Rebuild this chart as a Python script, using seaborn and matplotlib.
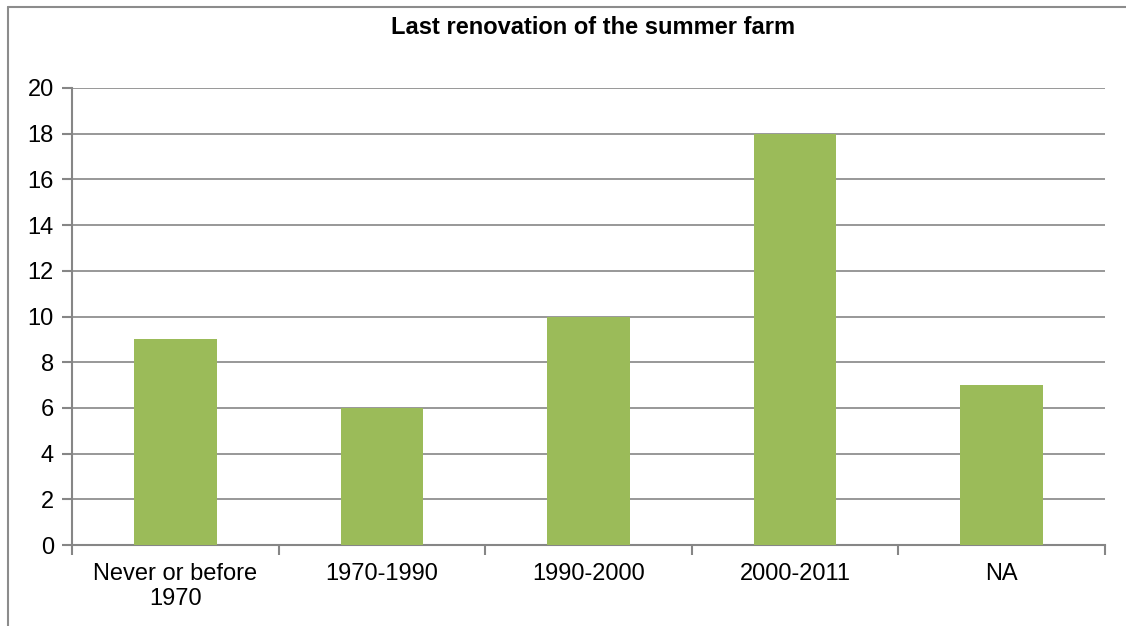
import numpy as np
import seaborn as sns
import matplotlib.pyplot as plt
from matplotlib.lines import Line2D

# data
categories = ["Never or before\n1970", "1970-1990", "1990-2000", "2000-2011", "NA"]
counts = [9, 6, 10, 18, 7]
title = "Last renovation of the summer farm"

sns.set_style("white")
plt.rcParams['font.family'] = ['Liberation Sans', 'DejaVu Sans']
plt.rcParams['text.color'] = 'black'
plt.rcParams['xtick.color'] = 'black'
plt.rcParams['ytick.color'] = 'black'

fig = plt.figure(figsize=(11.26, 6.26), dpi=100)
ax = fig.add_axes([72 / 1126, 1 - 545 / 626, (1105 - 72) / 1126, (545 - 88) / 626])

sns.barplot(x=categories, y=counts, color="#9BBB59", width=0.4, saturation=1,
            linewidth=0, ax=ax, zorder=3)

grid_col = "#868686"
ax.set_ylim(0, 20)
ax.set_yticks(np.arange(0, 21, 2))
ax.set_xlim(-0.5, len(categories) - 0.5)
ax.yaxis.grid(True, color=grid_col, linewidth=1.2, zorder=0)
ax.set_axisbelow(True)

for side in ["top", "right"]:
    ax.spines[side].set_visible(False)
for side in ["left", "bottom"]:
    ax.spines[side].set_color(grid_col)
    ax.spines[side].set_linewidth(1.5)

ax.tick_params(axis="y", length=7, width=1.5, color=grid_col, labelcolor="black",
               labelsize=17, pad=6, left=True)
ax.tick_params(axis="x", which="major", length=0, labelsize=17, labelcolor="black", pad=13)
ax.set_xticks(np.arange(-0.5, len(categories), 1), minor=True)
ax.tick_params(axis="x", which="minor", length=7, width=1.5, color=grid_col, bottom=True)
for lbl in ax.get_xticklabels():
    lbl.set_linespacing(1.15)
ax.set_xlabel("")
ax.set_ylabel("")

fig.text(593 / 1126, 1 - 27 / 626, title, ha="center", va="center",
         fontsize=17, fontweight="bold", color="black")

# chart-area border (only left and top visible in the original crop)
fig.add_artist(Line2D([8 / 1126, 8 / 1126], [0, 1 - 7 / 626], transform=fig.transFigure,
                      color="#8C8C8C", linewidth=1.5))
fig.add_artist(Line2D([8 / 1126, 1], [1 - 7 / 626, 1 - 7 / 626], transform=fig.transFigure,
                      color="#8C8C8C", linewidth=1.5))

fig.savefig("out.png", dpi=100)
